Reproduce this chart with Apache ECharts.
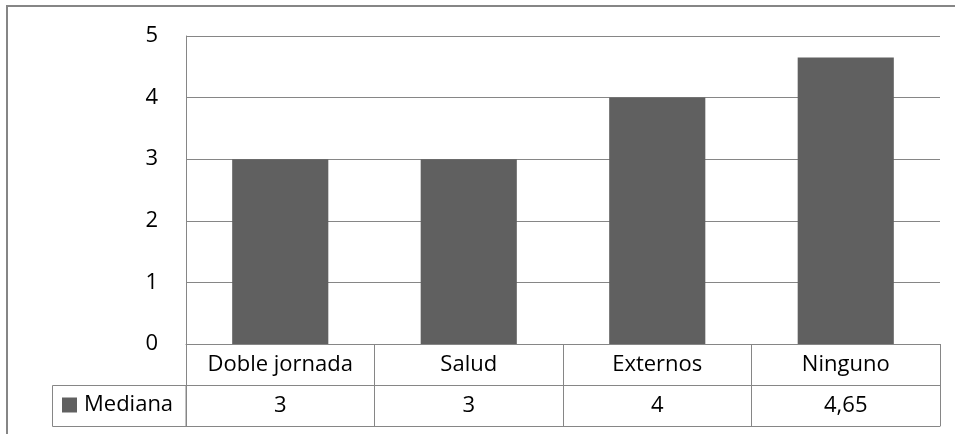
<!DOCTYPE html>
<html>
<head>
<meta charset="utf-8">
<script src="https://cdn.jsdelivr.net/npm/echarts@6/dist/echarts.min.js"></script>
<style>
  html, body { margin: 0; padding: 0; background: #fff; }
  #chart { width: 955px; height: 434px; }
</style>
</head>
<body>
<div id="chart"></div>
<script>
// Categories and median values shown in the bars and the data table
const categorias = ['Doble jornada', 'Salud', 'Externos', 'Ninguno'];
const medianas = [3, 3, 4, 4.65];
const serieNombre = 'Mediana';
const yTicks = [0, 1, 2, 3, 4, 5];

const LINE = '#868686';
const BAR = '#606060';
const FONT = '"Open Sans", sans-serif';
const FS = 22;

// Values as written in the data table row (decimal comma)
const valoresTexto = medianas.map(v => String(v).replace('.', ','));

const chart = echarts.init(document.getElementById('chart'), null, { renderer: 'canvas' });

chart.setOption({
  animation: false,
  backgroundColor: '#fff',
  textStyle: { fontFamily: FONT },
  grid: { left: 186, right: 15, top: 36, bottom: 90, containLabel: false },
  legend: {
    data: [serieNombre],
    left: 62,
    top: 394,
    padding: 0,
    icon: 'rect',
    itemWidth: 15,
    itemHeight: 15,
    itemGap: 0,
    selectedMode: false,
    textStyle: { fontSize: FS, color: '#000', fontFamily: FONT, padding: [0, 0, 0, 2] }
  },
  xAxis: [
    {
      type: 'category',
      data: categorias,
      position: 'bottom',
      axisLine: { show: true, lineStyle: { color: LINE, width: 1 } },
      axisTick: { show: true, interval: 0, length: 82, lineStyle: { color: LINE, width: 1 } },
      axisLabel: { interval: 0, fontSize: FS, color: '#000', margin: 10, fontFamily: FONT },
      splitLine: { show: false }
    },
    {
      type: 'category',
      data: valoresTexto,
      position: 'bottom',
      offset: 41,
      axisLine: { show: true, lineStyle: { color: LINE, width: 1 } },
      axisTick: { show: false },
      axisLabel: { interval: 0, fontSize: FS, color: '#000', margin: 10, fontFamily: FONT },
      splitLine: { show: false }
    },
    {
      type: 'category',
      data: categorias,
      position: 'bottom',
      offset: 82,
      axisLine: { show: true, lineStyle: { color: LINE, width: 1 } },
      axisTick: { show: false },
      axisLabel: { show: false },
      splitLine: { show: false }
    }
  ],
  yAxis: {
    type: 'value',
    min: yTicks[0],
    max: yTicks[yTicks.length - 1],
    interval: 1,
    axisLine: { show: true, lineStyle: { color: LINE, width: 1 } },
    axisTick: { show: false },
    axisLabel: {
      fontSize: FS, color: '#000', margin: 28, fontFamily: FONT,
      formatter: v => String(v)
    },
    splitLine: { show: true, lineStyle: { color: LINE, width: 1 } }
  },
  series: [
    {
      name: serieNombre,
      type: 'bar',
      xAxisIndex: 0,
      data: medianas,
      barWidth: '51%',
      itemStyle: { color: BAR },
      label: { show: false }
    }
  ],
  graphic: [
    {
      // outer chart frame
      type: 'rect',
      silent: true,
      shape: { x: 7, y: 6, width: 1000, height: 1000 },
      style: { fill: null, stroke: LINE, lineWidth: 2 }
    },
    {
      // legend key cell of the data table
      type: 'rect',
      silent: true,
      shape: { x: 52.5, y: 385.5, width: 133.5, height: 41 },
      style: { fill: null, stroke: LINE, lineWidth: 1 }
    }
  ]
});
</script>
</body>
</html>
